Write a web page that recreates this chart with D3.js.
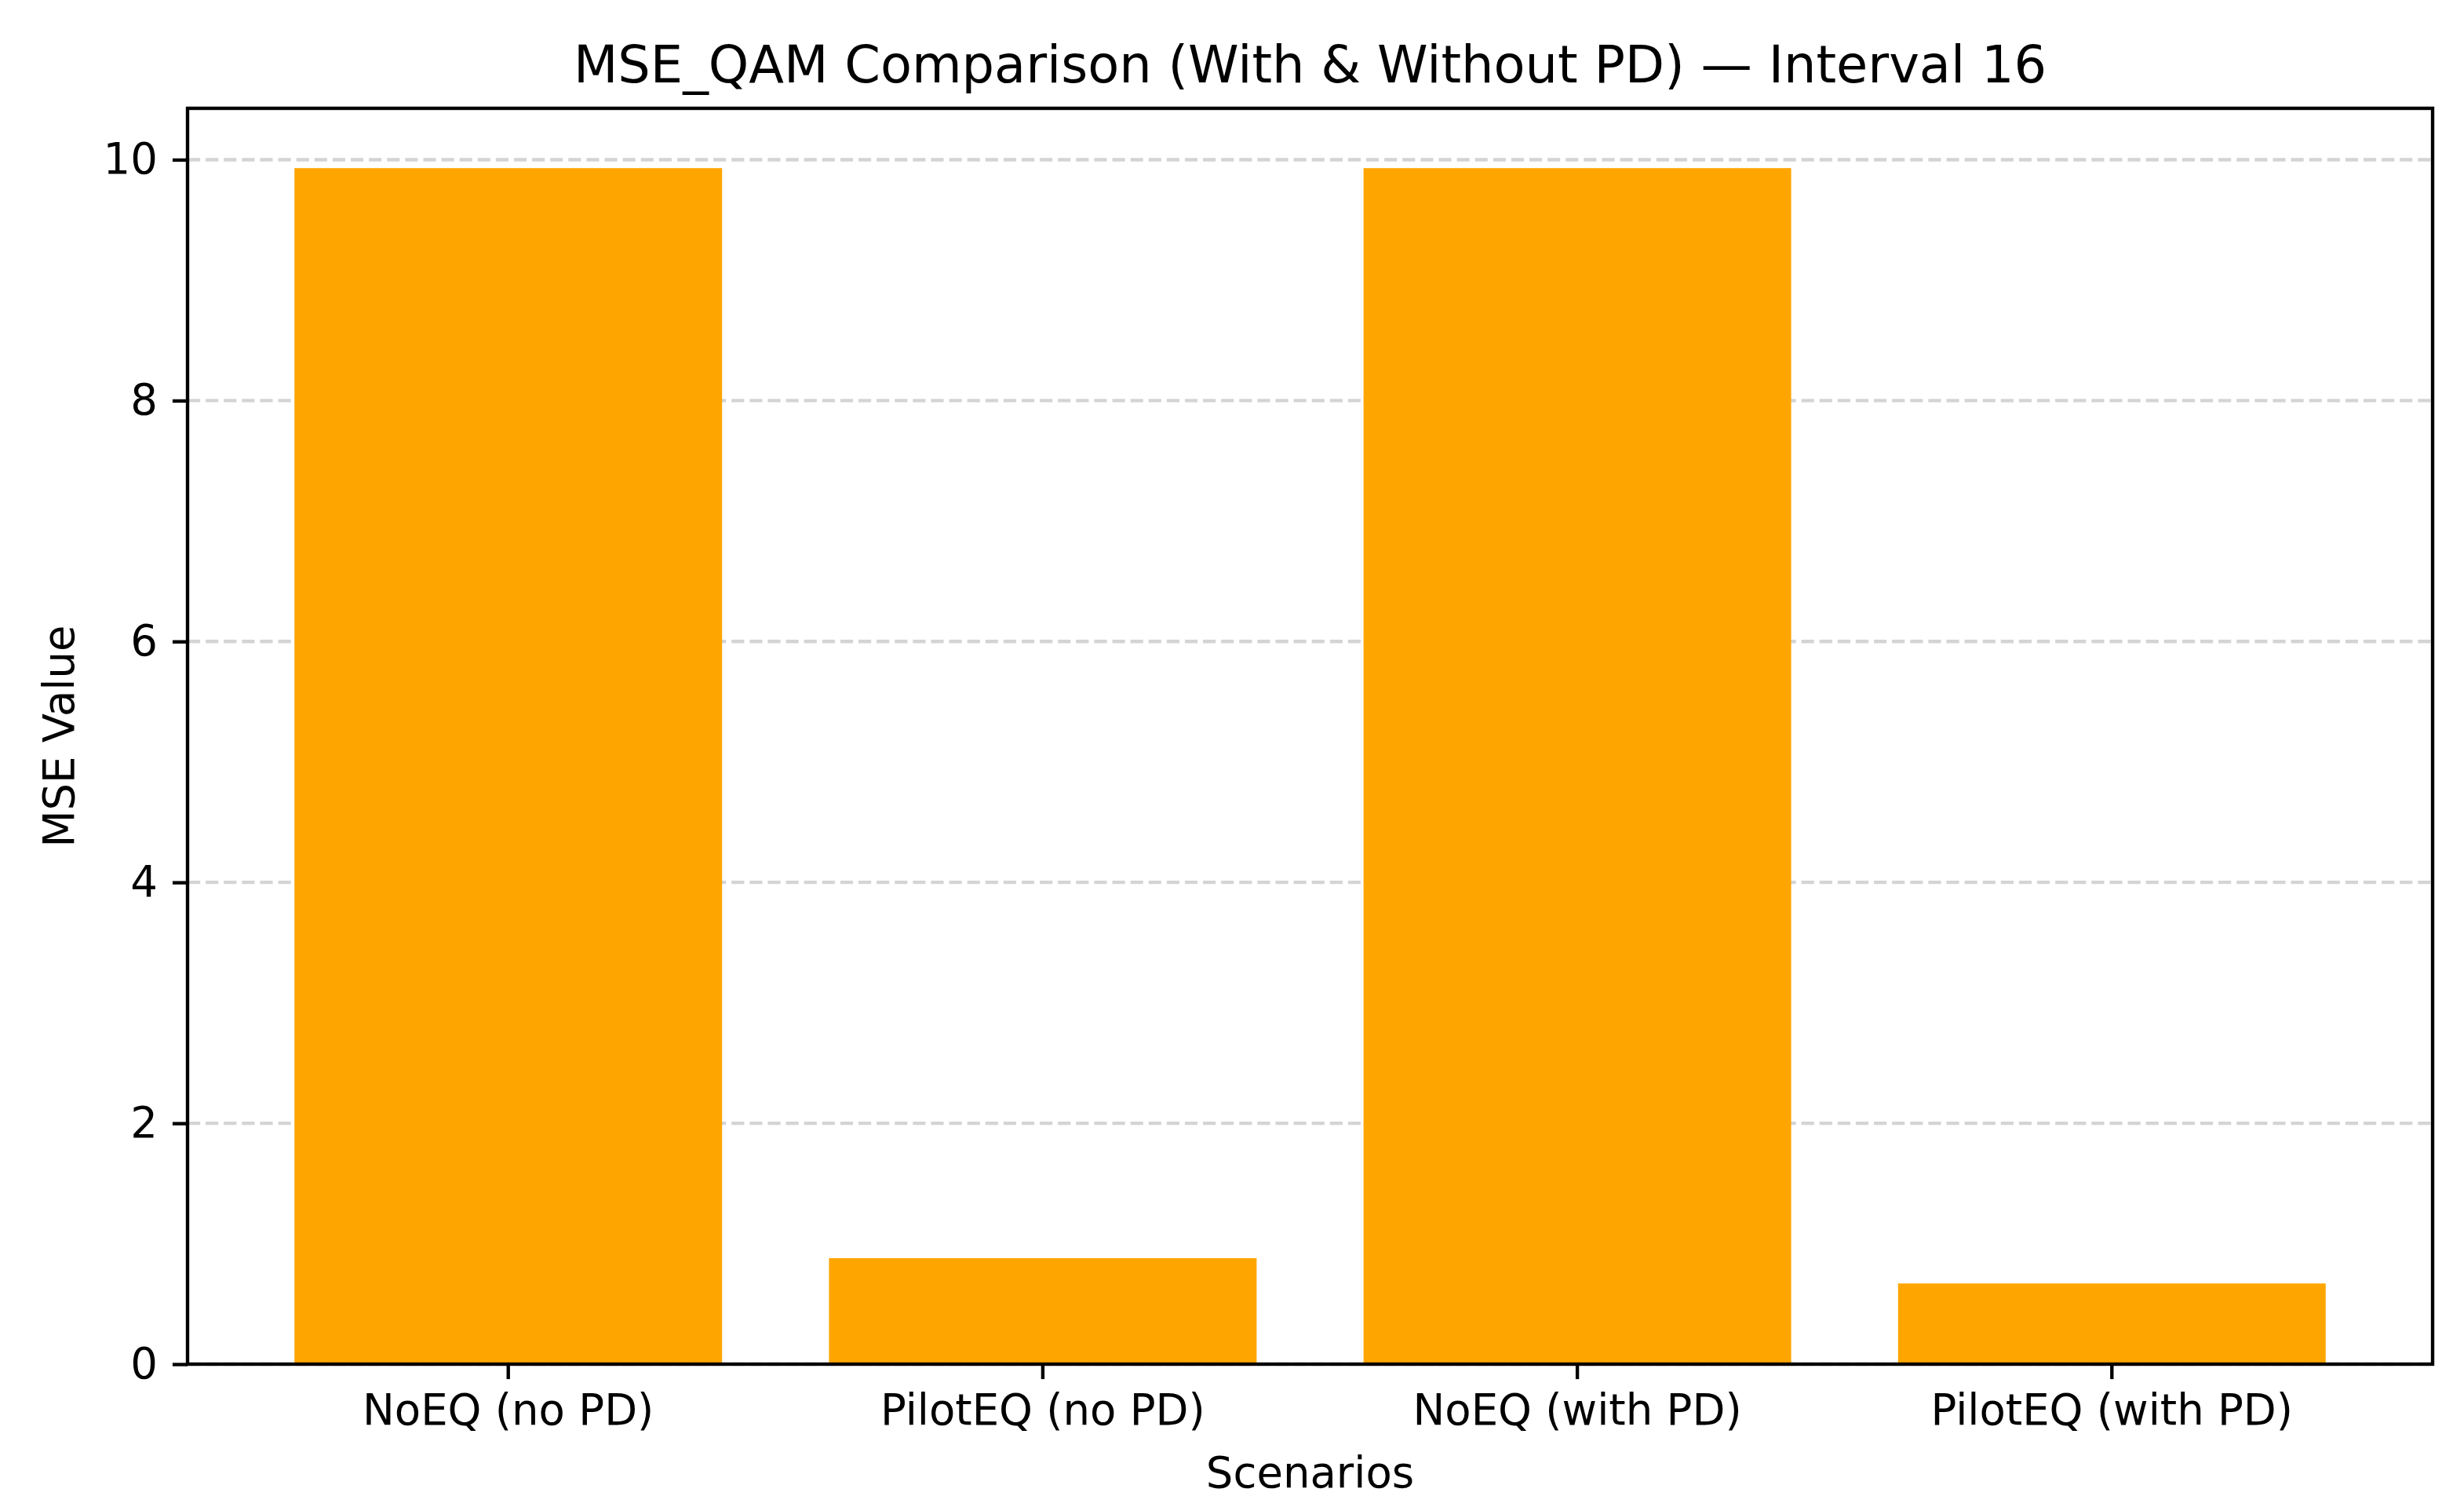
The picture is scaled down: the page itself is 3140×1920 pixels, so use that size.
<!DOCTYPE html>
<html>
<head>
<meta charset="utf-8">
<script src="https://cdn.jsdelivr.net/npm/d3@7"></script>
<style>
    body { margin: 0; background: #fff; }
    text { font-family: "DejaVu Sans", sans-serif; fill: #000; }
</style>
</head>
<body>
<div id="chart"></div>
<script>
// Chart data
const scenarios = ['NoEQ (no PD)', 'PilotEQ (no PD)', 'NoEQ (with PD)', 'PilotEQ (with PD)'];
const mseValues = [9.93, 0.88, 9.93, 0.67];
const yTicks = [0, 2, 4, 6, 8, 10];

const titleText = 'MSE_QAM Comparison (With & Without PD) \u2014 Interval 16';
const xLabelText = 'Scenarios';
const yLabelText = 'MSE Value';

document.addEventListener('DOMContentLoaded', () => {
    drawChart();
});

function drawChart() {
    const width = 3140;
    const height = 1920;
    const margin = { top: 138, right: 40, bottom: 182, left: 239 };
    const pt = 5.45; // px per point

    const svg = d3.select('#chart')
        .append('svg')
        .attr('width', width)
        .attr('height', height);

    const x = d3.scaleBand()
        .domain(scenarios)
        .range([margin.left, width - margin.right])
        .padding(0.2);

    const yMax = d3.max(mseValues) * 1.05;
    const y = d3.scaleLinear()
        .domain([0, yMax])
        .range([height - margin.bottom, margin.top]);

    // Grid lines (y only)
    svg.append('g')
        .selectAll('line')
        .data(yTicks)
        .enter()
        .append('line')
        .attr('x1', margin.left)
        .attr('x2', width - margin.right)
        .attr('y1', d => y(d))
        .attr('y2', d => y(d))
        .attr('stroke', '#d4d4d4')
        .attr('stroke-width', 0.8 * pt)
        .attr('stroke-dasharray', `${3.7 * 0.8 * pt},${1.6 * 0.8 * pt}`);

    // Bars
    svg.append('g')
        .selectAll('rect')
        .data(mseValues)
        .enter()
        .append('rect')
        .attr('x', (d, i) => x(scenarios[i]))
        .attr('y', d => y(d))
        .attr('width', x.bandwidth())
        .attr('height', d => y(0) - y(d))
        .attr('fill', '#FFA500');

    // Axes
    const xAxis = svg.append('g')
        .attr('transform', `translate(0,${height - margin.bottom})`)
        .call(d3.axisBottom(x).tickSize(3.5 * pt).tickPadding(3.5 * pt));

    const yAxis = svg.append('g')
        .attr('transform', `translate(${margin.left},0)`)
        .call(d3.axisLeft(y).tickValues(yTicks).tickSize(3.5 * pt).tickPadding(3.5 * pt));

    [xAxis, yAxis].forEach(g => {
        g.select('.domain').remove();
        g.selectAll('line').attr('stroke', '#000').attr('stroke-width', 0.8 * pt);
        g.selectAll('text')
            .attr('font-size', 10 * pt)
            .attr('font-family', '"DejaVu Sans", sans-serif')
            .attr('fill', '#000');
    });

    // Frame (spines)
    svg.append('rect')
        .attr('x', margin.left)
        .attr('y', margin.top)
        .attr('width', width - margin.left - margin.right)
        .attr('height', height - margin.top - margin.bottom)
        .attr('fill', 'none')
        .attr('stroke', '#000')
        .attr('stroke-width', 0.8 * pt);

    // Title
    svg.append('text')
        .attr('x', (margin.left + width - margin.right) / 2)
        .attr('y', margin.top - 6 * pt)
        .attr('text-anchor', 'middle')
        .attr('font-size', 12 * pt)
        .text(titleText);

    // Axis labels
    svg.append('text')
        .attr('x', (margin.left + width - margin.right) / 2)
        .attr('y', 1895)
        .attr('text-anchor', 'middle')
        .attr('font-size', 10 * pt)
        .text(xLabelText);

    svg.append('text')
        .attr('transform', `translate(94,${(margin.top + height - margin.bottom) / 2}) rotate(-90)`)
        .attr('text-anchor', 'middle')
        .attr('font-size', 10 * pt)
        .text(yLabelText);
}
</script>
</body>
</html>
